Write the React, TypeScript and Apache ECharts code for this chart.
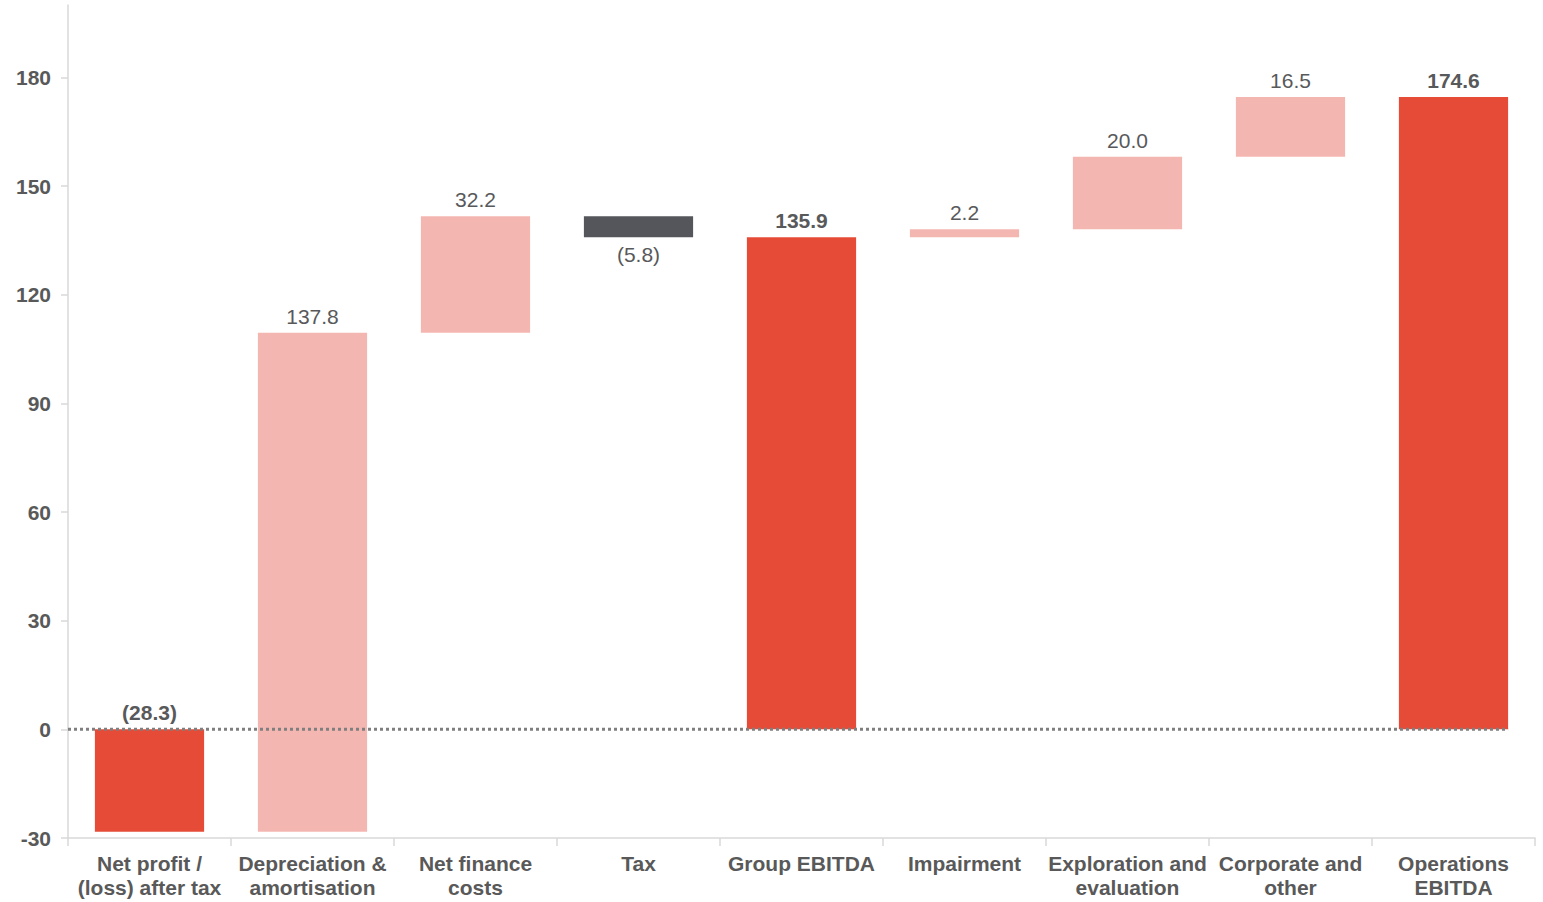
import React, { useEffect, useRef } from "react";
import * as echarts from "echarts";

const categories = [
  "Net profit /\n(loss) after tax",
  "Depreciation &\namortisation",
  "Net finance\ncosts",
  "Tax",
  "Group EBITDA",
  "Impairment",
  "Exploration and\nevaluation",
  "Corporate and\nother",
  "Operations\nEBITDA",
];
const values = [-28.3, 137.8, 32.2, -5.8, 135.9, 2.2, 20.0, 16.5, 174.6];
const kinds = ["total", "step", "step", "step", "total", "step", "step", "step", "total"];
const yTicks = { min: -30, max: 200, interval: 30 };

const RED = "#E64B38";
const PINK = "#F4B6B0";
const DARK = "#55565B";
const TEXT = "#58595B";
const FONT = "'Liberation Sans', Arial, sans-serif";

function buildRows() {
  let running = 0;
  return values.map((v, i) => {
    let start: number, end: number;
    if (kinds[i] === "total") {
      start = 0;
      end = v;
      running = v;
    } else {
      start = running;
      end = running + v;
      running = end;
    }
    return [i, start, end, v];
  });
}

function fmt(v: number) {
  return v < 0 ? `(${Math.abs(v).toFixed(1)})` : v.toFixed(1);
}

export default function App() {
  const ref = useRef<HTMLDivElement>(null);
  useEffect(() => {
    const chart = echarts.init(ref.current!, null, { renderer: "svg" });
    const rows = buildRows();
    chart.setOption({
      animation: false,
      backgroundColor: "#fff",
      grid: { left: 68, right: 8, top: 5, bottom: 64, containLabel: false },
      xAxis: {
        type: "category",
        data: categories,
        axisLine: { onZero: false, lineStyle: { color: "#D9D9D9", width: 1.5 } },
        axisTick: { show: true, length: 8, lineStyle: { color: "#D9D9D9", width: 1.5 } },
        axisLabel: {
          interval: 0,
          color: "#595959",
          fontFamily: FONT,
          fontWeight: "bold",
          fontSize: 21,
          lineHeight: 24,
          margin: 13,
        },
      },
      yAxis: {
        type: "value",
        min: yTicks.min,
        max: yTicks.max,
        interval: yTicks.interval,
        splitLine: { show: false },
        axisLine: { show: true, lineStyle: { color: "#D9D9D9", width: 1.5 } },
        axisTick: { show: true, length: 7, lineStyle: { color: "#D9D9D9", width: 1.5 } },
        axisLabel: {
          showMaxLabel: false,
          color: "#595959",
          fontFamily: FONT,
          fontWeight: "bold",
          fontSize: 21,
          margin: 17,
          formatter: (v: number) => (v % 30 === 0 ? String(v) : ""),
        },
      },
      series: [
        {
          type: "custom",
          data: rows,
          encode: { x: 0, y: [1, 2] },
          renderItem: (params: any, api: any) => {
            const idx = api.value(0);
            const start = api.value(1);
            const end = api.value(2);
            const v = api.value(3);
            const band = api.size([1, 0])[0];
            const w = band * 0.67;
            const p1 = api.coord([idx, start]);
            const p2 = api.coord([idx, end]);
            const top = Math.min(p1[1], p2[1]);
            const bottom = Math.max(p1[1], p2[1]);
            const isTotal = kinds[idx] === "total";
            const color = isTotal ? RED : v < 0 ? DARK : PINK;
            const below = !isTotal && v < 0;
            return {
              type: "group",
              children: [
                {
                  type: "rect",
                  shape: { x: p1[0] - w / 2, y: top, width: w, height: bottom - top },
                  style: { fill: color },
                },
                {
                  type: "text",
                  x: p1[0],
                  y: below ? bottom + 7 : top - 6,
                  style: {
                    text: fmt(v),
                    fill: TEXT,
                    font: `${isTotal ? "bold " : ""}21px ${FONT}`,
                    textAlign: "center",
                    textVerticalAlign: below ? "top" : "bottom",
                  },
                },
              ],
            };
          },
          z: 2,
        },
        {
          type: "custom",
          data: [[categories.length - 1, 0]],
          encode: { x: 0, y: 1 },
          renderItem: (params: any, api: any) => {
            const band = api.size([1, 0])[0];
            const p = api.coord([api.value(0), api.value(1)]);
            const sys = params.coordSys;
            return {
              type: "line",
              shape: { x1: sys.x, y1: p[1], x2: p[0] + band * 0.335, y2: p[1] },
              style: { stroke: "#7F7F7F", lineWidth: 3, lineDash: [3, 3] },
            };
          },
          z: 5,
        },
      ],
    });
    return () => chart.dispose();
  }, []);
  return (
    <div
      ref={ref}
      style={{ position: "fixed", left: 0, top: 0, width: 1543, height: 902 }}
    />
  );
}
